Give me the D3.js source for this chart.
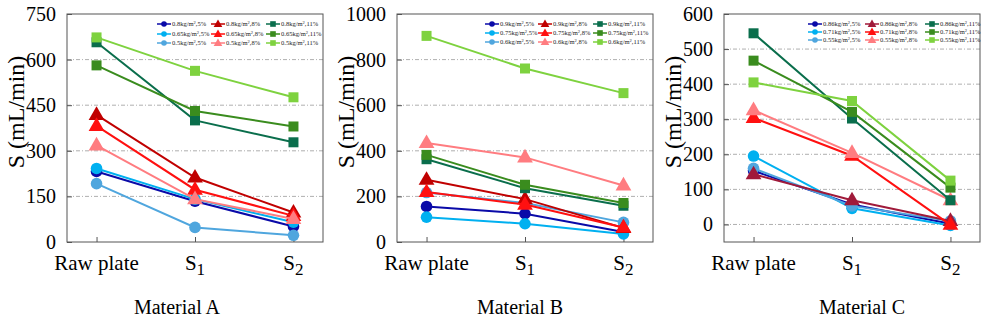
<!DOCTYPE html>
<html><head><meta charset="utf-8">
<script src="https://cdn.jsdelivr.net/npm/d3@7"></script>
<style>body{margin:0;background:#fff}svg{display:block}text{font-family:"Liberation Serif","Times New Roman",serif}</style>
</head><body><svg id="c" width="982" height="318"></svg>
<script>
const categories = ["Raw plate", "S1", "S2"];
// Material A
const densA = ["0.8","0.65","0.5"];
const A5  = [[232,134,51],[242,141,65],[192,48,22]];
const A8  = [[418,212,97],[382,172,86],[318,141,76]];
const A11 = [[657,400,328],[581,431,380],[673,563,476]];
// Material B
const densB = ["0.9","0.75","0.6"];
const B5  = [[156,124,44],[109,80,35],[217,171,86]];
const B8  = [[273,188,62],[219,164,64],[434,371,248]];
const B11 = [[363,236,159],[382,251,171],[904,761,653]];
// Material C
const densC = ["0.86","0.71","0.55"];
const C5  = [[153,57,2],[195,46,-3],[160,53,10]];
const C8  = [[143,69,10],[304,196,-1],[326,204,69]];
const C11 = [[545,302,69],[467,321,105],[405,352,125]];
const yTicksA = [0,150,300,450,600,750];
const yTicksB = [0,200,400,600,800,1000];
const yTicksC = [0,100,200,300,400,500,600];

const col5 = ["#0a0aa8","#00b0f0","#4fa6de"];
const col8AB = ["#c00000","#ff1010","#ff7c80"];
const col8C = ["#a01a3a","#ff1010","#ff7c80"];
const col11 = ["#0a6e4c","#3a8c1e","#7ed23f"];

const svg = d3.select("#c");
const serif = '"Liberation Serif","Times New Roman",serif';

const panels = [
  {dens:densA, v5:A5, v8:A8, v11:A11, c8:col8AB, left:67, right:323, dom:[0,750], ticks:yTicksA, grid:[150,300,450,600],
   ytx:16, title:"Material A", tx:177, legX:[157,211,266], legY:[24,34,43], legTextGap:15},
  {dens:densB, v5:B5, v8:B8, v11:B11, c8:col8AB, left:397, right:653, dom:[0,1000], ticks:yTicksB, grid:[200,400,600,800],
   ytx:346, title:"Material B", tx:520, legX:[485,538,593], legY:[24,33,42], legTextGap:15},
  {dens:densC, v5:C5, v8:C8, v11:C11, c8:col8C, left:724, right:980, dom:[-50,600], ticks:yTicksC, grid:[0,100,200,300,400,500],
   ytx:673, title:"Material C", tx:862, legX:[808,865,925], legY:[24,32,40], legTextGap:15}
];
const plotTop = 14, plotBottom = 242;

function marker(g, type, x, y, color, s) {
  if (type === 0) g.append("circle").attr("cx", x).attr("cy", y).attr("r", s).attr("fill", color);
  else if (type === 1) g.append("path").attr("d", d3.symbol(d3.symbolTriangle, s*s*3.2)()).attr("transform", `translate(${x},${y+0.5})`).attr("fill", color);
  else g.append("rect").attr("x", x - s).attr("y", y - s).attr("width", 2*s).attr("height", 2*s).attr("fill", color);
}

panels.forEach(p => {
  const g = svg.append("g");
  const x = d3.scaleLinear().domain([-0.3, 2.3]).range([p.left, p.right]);
  const y = d3.scaleLinear().domain(p.dom).range([plotBottom, plotTop]);
  g.selectAll(".grid").data(p.grid).join("line")
    .attr("x1", p.left).attr("x2", p.right).attr("y1", d => y(d)).attr("y2", d => y(d))
    .attr("stroke", "#9a9a9a").attr("stroke-width", 0.8).attr("stroke-dasharray", "4,2,1,2");
  g.append("rect").attr("x", p.left).attr("y", plotTop).attr("width", p.right - p.left).attr("height", plotBottom - plotTop)
    .attr("fill", "none").attr("stroke", "#555").attr("stroke-width", 1);
  const ya = d3.axisLeft(y).tickValues(p.ticks).tickSize(-5).tickPadding(11).tickFormat(d3.format("d"));
  const yg = g.append("g").attr("transform", `translate(${p.left},0)`).call(ya);
  yg.attr("font-family", null).attr("font-size", null);
  yg.select(".domain").remove();
  yg.selectAll("line").attr("stroke", "#555");
  yg.selectAll("text").style("font-family", serif).style("font-size", "20px").attr("fill", "#000");
  const xa = d3.axisBottom(x).tickValues([0,1,2]).tickSize(-5).tickFormat(() => "");
  const xg = g.append("g").attr("transform", `translate(0,${plotBottom})`).call(xa);
  xg.select(".domain").remove();
  xg.selectAll("line").attr("stroke", "#555");
  categories.forEach((c, i) => {
    const t = g.append("text").attr("x", x(i)).attr("y", 270).attr("text-anchor", "middle")
      .style("font-family", serif).style("font-size", "21px").attr("fill", "#000");
    if (c === "Raw plate") t.text(c);
    else { t.append("tspan").text(c[0]); t.append("tspan").attr("dy", 5).style("font-size", "17px").text(c.slice(1)); }
  });
  g.append("text").attr("transform", `translate(${p.ytx + 8},${112}) rotate(-90)`).attr("text-anchor", "middle")
    .style("font-family", serif).style("font-size", "24px").attr("fill", "#000").text("S (mL/min)");
  g.append("text").attr("x", p.tx).attr("y", 314).attr("text-anchor", "middle")
    .style("font-family", serif).style("font-size", "20px").attr("fill", "#000").text(p.title);
  const groups = [{vals:p.v5, cols:col5, type:0, pct:"5%"}, {vals:p.v8, cols:p.c8, type:1, pct:"8%"}, {vals:p.v11, cols:col11, type:2, pct:"11%"}];
  const line = d3.line().x((d, i) => x(i)).y(d => y(d));
  groups.forEach(gr => {
    gr.vals.forEach((vals, k) => {
      g.append("path").attr("d", line(vals)).attr("fill", "none").attr("stroke", gr.cols[k]).attr("stroke-width", 2);
      vals.forEach((v, i) => marker(g, gr.type, x(i), y(v), gr.cols[k], gr.type === 0 ? 5.8 : (gr.type === 1 ? 5.8 : 5)));
    });
  });
  groups.forEach((gr, ci) => {
    p.dens.forEach((dn, k) => {
      const lx = p.legX[ci], ly = p.legY[k];
      g.append("line").attr("x1", lx).attr("x2", lx + 14).attr("y1", ly).attr("y2", ly).attr("stroke", gr.cols[k]).attr("stroke-width", 1.5);
      marker(g, gr.type, lx + 7, ly, gr.cols[k], gr.type === 1 ? 3.2 : 2.8);
      const t = g.append("text").attr("x", lx + p.legTextGap).attr("y", ly + 2.3)
        .style("font-family", serif).style("font-size", "6.5px").attr("fill", "#222");
      t.append("tspan").text(dn + "kg/m");
      t.append("tspan").attr("dy", -2.5).style("font-size", "4.5px").text("2");
      t.append("tspan").attr("dy", 2.5).text("," + gr.pct);
    });
  });
});
</script></body></html>
